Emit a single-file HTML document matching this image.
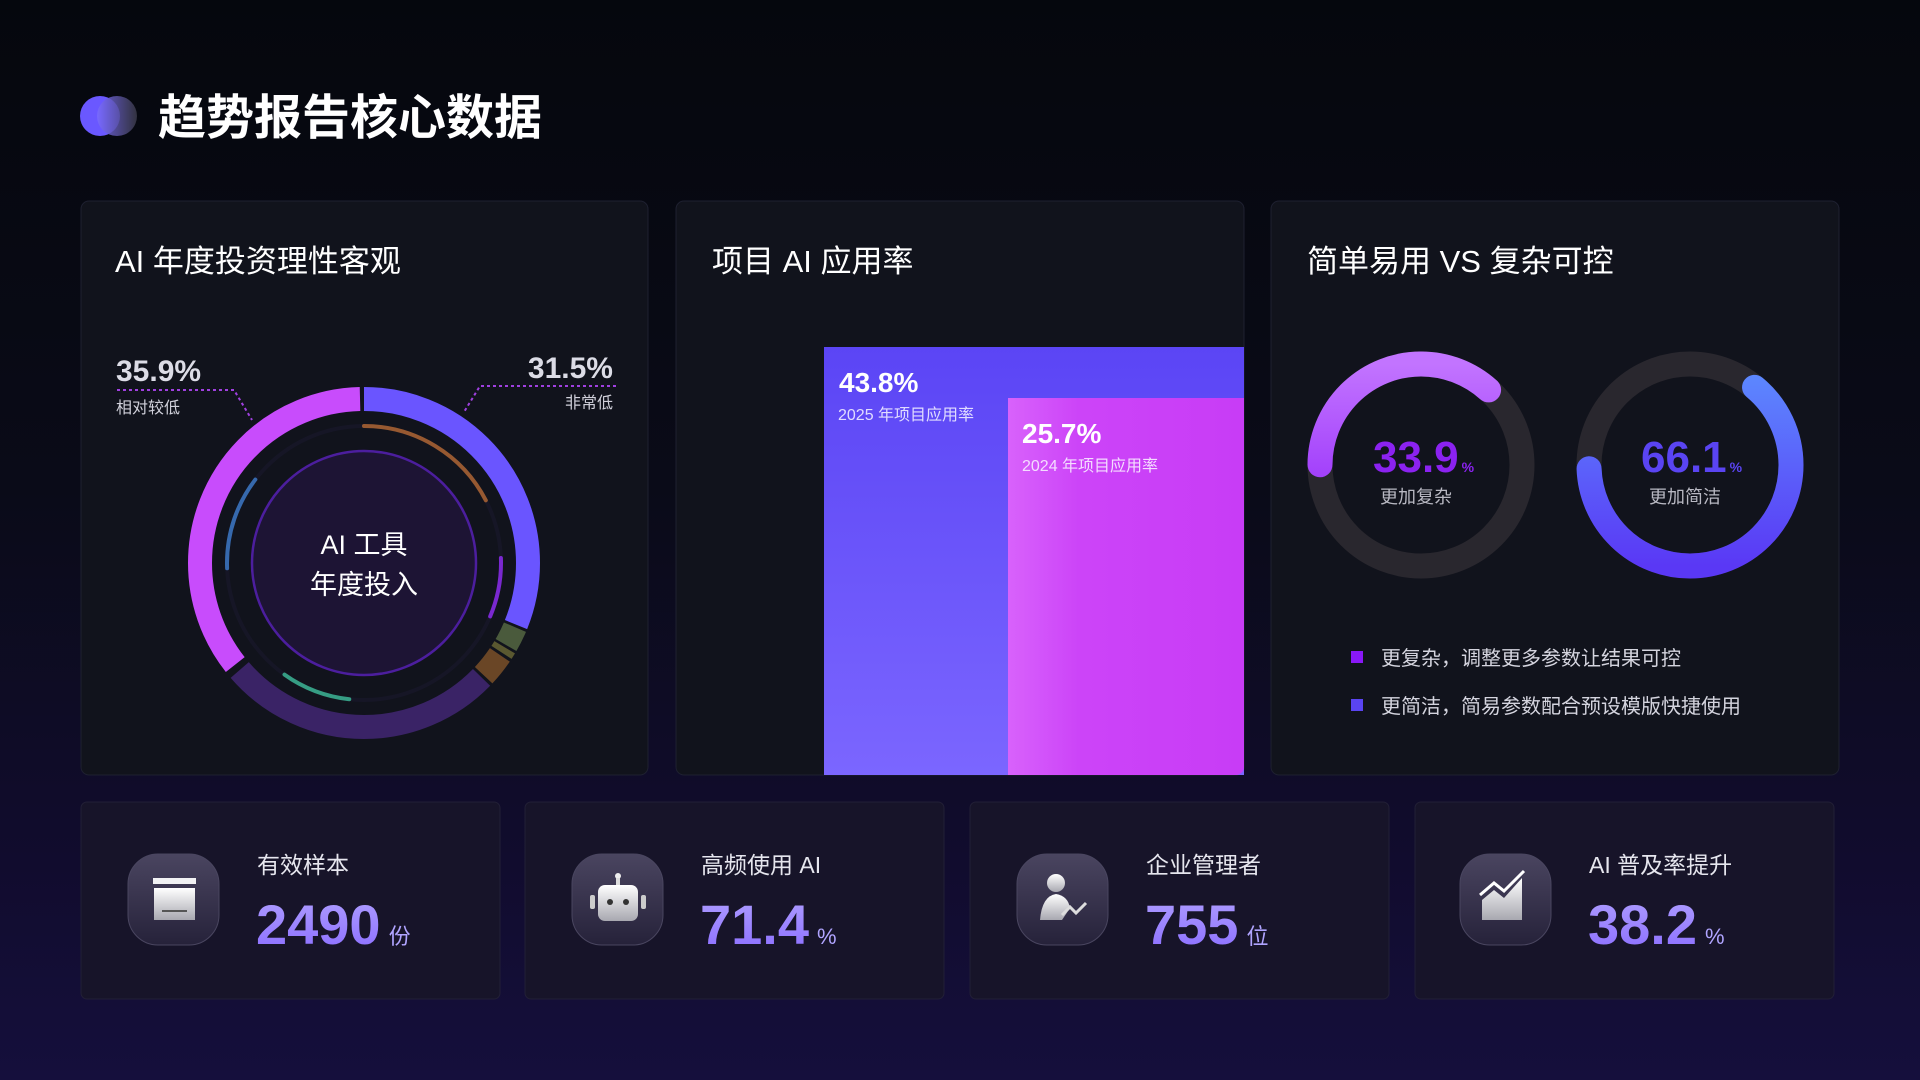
<!DOCTYPE html>
<html><head><meta charset="utf-8"><style>
html,body{margin:0;padding:0;width:1920px;height:1080px;overflow:hidden;background:linear-gradient(180deg,#05070d 0%,#0a0b18 45%,#110c2e 80%,#150f3c 100%);}
svg{display:block}
text{font-family:"Liberation Sans","Noto Sans CJK SC",sans-serif}
</style></head><body>
<svg width="1920" height="1080" viewBox="0 0 1920 1080" xmlns="http://www.w3.org/2000/svg">
<defs>
<linearGradient id="gBlue" x1="0" y1="0" x2="0" y2="1"><stop offset="0" stop-color="#5b45f5"/><stop offset="1" stop-color="#7b66ff"/></linearGradient>
<linearGradient id="gMag" x1="0" y1="0" x2="1" y2="0"><stop offset="0" stop-color="#d862fb"/><stop offset="0.3" stop-color="#cc44f8"/><stop offset="1" stop-color="#c83cf6"/></linearGradient>
<linearGradient id="gR1" x1="0" y1="0" x2="1" y2="0"><stop offset="0" stop-color="#8a18f8"/><stop offset="1" stop-color="#c274ff"/></linearGradient>
<linearGradient id="gR2" x1="0" y1="0" x2="1" y2="0"><stop offset="0" stop-color="#5a38f5"/><stop offset="1" stop-color="#5c8cff"/></linearGradient>
<linearGradient id="gNum" x1="0" y1="0" x2="0" y2="1"><stop offset="0" stop-color="#b0a0ff"/><stop offset="1" stop-color="#8a6cff"/></linearGradient>
<linearGradient id="gIcon" x1="0" y1="0" x2="0" y2="1"><stop offset="0" stop-color="#4a4560"/><stop offset="1" stop-color="#26223a"/></linearGradient>
<linearGradient id="gGlyph" x1="0" y1="0" x2="0" y2="1"><stop offset="0" stop-color="#ffffff"/><stop offset="1" stop-color="#a8a8b0"/></linearGradient>
<linearGradient id="gDot" x1="0" y1="0" x2="1" y2="0"><stop offset="0" stop-color="#7a6cff"/><stop offset="1" stop-color="#3a3a48"/></linearGradient>
</defs>

<!-- header -->
<circle cx="100" cy="116" r="20" fill="#6a58ff"/>
<circle cx="117" cy="116" r="20" fill="url(#gDot)" opacity="0.85"/>
<text x="158" y="134" font-size="48" font-weight="bold" fill="#ffffff">趋势报告核心数据</text>

<!-- top cards -->
<rect x="81" y="201" width="567" height="574" rx="8" fill="#11131c" stroke="#1e2030"/>
<rect x="676" y="201" width="568" height="574" rx="8" fill="#11131c" stroke="#1e2030"/>
<rect x="1271" y="201" width="568" height="574" rx="8" fill="#11131c" stroke="#1e2030"/>
<text x="115" y="272" font-size="31" fill="#ffffff">AI 年度投资理性客观</text>
<text x="712" y="272" font-size="31" fill="#ffffff">项目 AI 应用率</text>
<text x="1307" y="272" font-size="31" fill="#ffffff">简单易用 VS 复杂可控</text>

<!-- donut -->
<g transform="rotate(-90 364 563)" fill="none" stroke-width="24">
 <circle cx="364" cy="563" r="164" stroke="#6a55ff" stroke-dasharray="320.6 1100" stroke-dashoffset="0"/>
 <circle cx="364" cy="563" r="164" stroke="#4a5a3c" stroke-dasharray="20 1100" stroke-dashoffset="-323.4"/>
 <circle cx="364" cy="563" r="164" stroke="#5a5830" stroke-dasharray="6 1100" stroke-dashoffset="-346"/>
 <circle cx="364" cy="563" r="164" stroke="#6a4626" stroke-dasharray="26 1100" stroke-dashoffset="-355"/>
 <circle cx="364" cy="563" r="164" stroke="#3a2366" stroke-dasharray="272 1100" stroke-dashoffset="-384"/>
 <circle cx="364" cy="563" r="164" stroke="#c84cfc" stroke-dasharray="363 1100" stroke-dashoffset="-663"/>
</g>
<g transform="rotate(-90 364 563)" fill="none" stroke-width="4" stroke-linecap="round">
 <circle cx="364" cy="563" r="137" stroke="#161626"/>
 <circle cx="364" cy="563" r="137" stroke="#b86a34" stroke-dasharray="150 1000" opacity="0.8"/>
 <circle cx="364" cy="563" r="137" stroke="#7a28d0" stroke-dasharray="60 1000" stroke-dashoffset="-210"/>
 <circle cx="364" cy="563" r="137" stroke="#3fbf9c" stroke-dasharray="70 1000" stroke-dashoffset="-445" opacity="0.8"/>
 <circle cx="364" cy="563" r="137" stroke="#3f7ed0" stroke-dasharray="95 1000" stroke-dashoffset="-640" opacity="0.8"/>
</g>
<circle cx="364" cy="563" r="112" fill="#1d1434" stroke="#4c1e9e" stroke-width="2.5"/>
<text x="364" y="554" font-size="27" fill="#ffffff" text-anchor="middle">AI 工具</text>
<text x="364" y="594" font-size="27" fill="#ffffff" text-anchor="middle">年度投入</text>
<!-- labels -->
<text x="116" y="381" font-size="30" font-weight="bold" fill="#dcdce6">35.9%</text>
<polyline points="117,390 234,390 252,420" fill="none" stroke="#a040e0" stroke-width="2" stroke-dasharray="3 3"/>
<text x="116" y="413" font-size="16" fill="#d0d0da">相对较低</text>
<text x="613" y="378" font-size="30" font-weight="bold" fill="#dcdce6" text-anchor="end">31.5%</text>
<polyline points="616,386 480,386 464,412" fill="none" stroke="#a040e0" stroke-width="2" stroke-dasharray="3 3"/>
<text x="613" y="408" font-size="16" fill="#d0d0da" text-anchor="end">非常低</text>

<!-- bars -->
<path d="M824 347 H1244 V775 H824 Z" fill="url(#gBlue)"/>
<path d="M1008 398 H1244 V767 a8 8 0 0 1 -8 8 H1008 Z" fill="url(#gMag)"/>
<text x="839" y="392" font-size="28" font-weight="bold" fill="#ffffff">43.8%</text>
<text x="838" y="420" font-size="16" fill="#e0dcff">2025 年项目应用率</text>
<text x="1022" y="443" font-size="28" font-weight="bold" fill="#ffffff">25.7%</text>
<text x="1022" y="471" font-size="16" fill="#f4dcff">2024 年项目应用率</text>

<!-- rings -->
<circle cx="1421" cy="465" r="101" fill="none" stroke="#29272e" stroke-width="25"/>
<g transform="rotate(-90 1421 465)"><circle cx="1421" cy="465" r="101" fill="none" stroke="url(#gR1)" stroke-width="25" stroke-linecap="round" stroke-dasharray="228 1000" stroke-dashoffset="-476"/></g>
<g transform="rotate(-90 1421 465)"><circle cx="1421" cy="465" r="101" fill="none" stroke="url(#gR1)" stroke-width="25" stroke-linecap="round" stroke-dasharray="74 1000" stroke-dashoffset="0"/></g>
<circle cx="1690" cy="465" r="101" fill="none" stroke="#29272e" stroke-width="25"/>
<g transform="rotate(-90 1690 465)"><circle cx="1690" cy="465" r="101" fill="none" stroke="url(#gR2)" stroke-width="25" stroke-linecap="round" stroke-dasharray="402 1000" stroke-dashoffset="-70"/></g>
<text x="1373" y="472" font-size="44" font-weight="bold" fill="#8b22f0">33.9<tspan font-size="14" dx="3">%</tspan></text>
<text x="1416" y="503" font-size="18" fill="#b8b8c2" text-anchor="middle">更加复杂</text>
<text x="1641" y="472" font-size="44" font-weight="bold" fill="#5a44f2">66.1<tspan font-size="14" dx="3">%</tspan></text>
<text x="1685" y="503" font-size="18" fill="#b8b8c2" text-anchor="middle">更加简洁</text>
<rect x="1351" y="651" width="12" height="12" fill="#8a18f8"/>
<text x="1381" y="665" font-size="20" fill="#d4d4de">更复杂，调整更多参数让结果可控</text>
<rect x="1351" y="699" width="12" height="12" fill="#5a44f2"/>
<text x="1381" y="713" font-size="20" fill="#d4d4de">更简洁，简易参数配合预设模版快捷使用</text>

<!-- bottom cards -->
<g>
<rect x="81" y="802" width="419" height="197" rx="6" fill="#171429" stroke="#221f36"/>
<rect x="525" y="802" width="419" height="197" rx="6" fill="#171429" stroke="#221f36"/>
<rect x="970" y="802" width="419" height="197" rx="6" fill="#171429" stroke="#221f36"/>
<rect x="1415" y="802" width="419" height="197" rx="6" fill="#171429" stroke="#221f36"/>
</g>
<!-- icons -->
<rect x="128" y="854" width="91" height="91" rx="30" fill="url(#gIcon)" stroke="#4a4660"/>
<rect x="153" y="878" width="43" height="6" fill="#f2f2f4"/>
<rect x="154" y="888" width="41" height="32" fill="url(#gGlyph)"/>
<rect x="162" y="910" width="25" height="2" fill="#555"/>
<rect x="572" y="854" width="91" height="91" rx="30" fill="url(#gIcon)" stroke="#4a4660"/>
<circle cx="618" cy="876" r="3" fill="#eee"/><rect x="616" y="878" width="4" height="8" fill="#ddd"/>
<rect x="598" y="885" width="40" height="36" rx="7" fill="url(#gGlyph)"/>
<rect x="590" y="895" width="5" height="14" rx="2" fill="#ccc"/><rect x="641" y="895" width="5" height="14" rx="2" fill="#ccc"/>
<circle cx="610" cy="902" r="3" fill="#333"/><circle cx="626" cy="902" r="3" fill="#333"/>
<rect x="1017" y="854" width="91" height="91" rx="30" fill="url(#gIcon)" stroke="#4a4660"/>
<circle cx="1056" cy="883" r="9" fill="url(#gGlyph)"/>
<path d="M1040 920 q2 -24 16 -26 q12 2 14 14 l-8 12 z" fill="url(#gGlyph)"/>
<path d="M1062 915 l8 -8 l6 6 l10 -10" fill="none" stroke="#ddd" stroke-width="3"/>
<rect x="1460" y="854" width="91" height="91" rx="30" fill="url(#gIcon)" stroke="#4a4660"/>
<path d="M1482 920 V900 l12 -10 l10 8 l18 -20 V920 Z" fill="url(#gGlyph)"/>
<path d="M1480 895 l14 -12 l10 8 l20 -20" fill="none" stroke="#fff" stroke-width="3"/>
<!-- texts -->
<g font-size="23" fill="#e6e6ee">
<text x="257" y="873">有效样本</text>
<text x="701" y="873">高频使用 AI</text>
<text x="1146" y="873">企业管理者</text>
<text x="1589" y="873">AI 普及率提升</text>
</g>
<g font-size="56" font-weight="bold" fill="url(#gNum)">
<text x="256" y="944">2490<tspan font-size="22" font-weight="normal" fill="#b0a4ff" dx="8">份</tspan></text>
<text x="700" y="944">71.4<tspan font-size="22" font-weight="normal" fill="#b0a4ff" dx="8">%</tspan></text>
<text x="1145" y="944">755<tspan font-size="22" font-weight="normal" fill="#b0a4ff" dx="8">位</tspan></text>
<text x="1588" y="944">38.2<tspan font-size="22" font-weight="normal" fill="#b0a4ff" dx="8">%</tspan></text>
</g>
</svg>
</body></html>
